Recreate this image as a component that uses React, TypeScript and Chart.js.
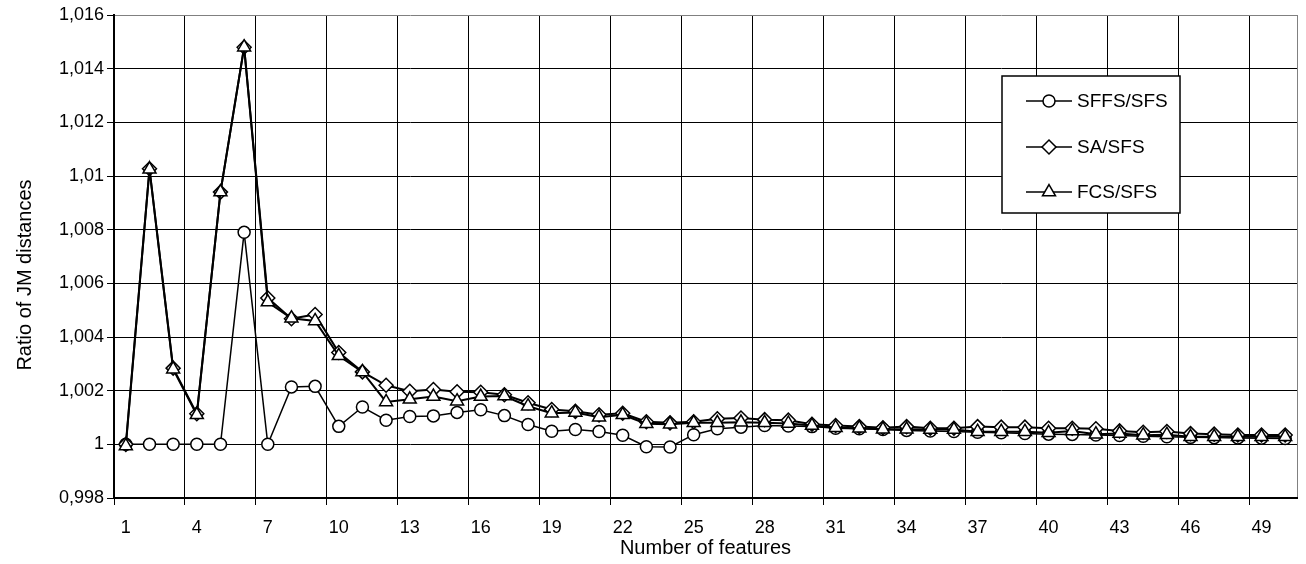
import React, { useEffect, useRef } from 'react';
import { Chart, registerables } from 'chart.js';
import { drawPoint } from 'chart.js/helpers';

Chart.register(...registerables);

const featureCounts = [
  '1', '2', '3', '4', '5', '6', '7', '8', '9', '10',
  '11', '12', '13', '14', '15', '16', '17', '18', '19', '20',
  '21', '22', '23', '24', '25', '26', '27', '28', '29', '30',
  '31', '32', '33', '34', '35', '36', '37', '38', '39', '40',
  '41', '42', '43', '44', '45', '46', '47', '48', '49', '50',
];

const sffsRatio = [
  1.0, 1.0, 1.0, 1.0, 1.0, 1.0079, 1.0, 1.00214, 1.00216, 1.00067,
  1.00139, 1.0009, 1.00104, 1.00106, 1.00119, 1.00129, 1.00107, 1.00074, 1.00049, 1.00055,
  1.00048, 1.00034, 0.99991, 0.9999, 1.00036, 1.00058, 1.00064, 1.0007, 1.00068, 1.00066,
  1.0006, 1.00058, 1.00055, 1.00052, 1.0005, 1.00048, 1.00045, 1.00043, 1.0004, 1.00038,
  1.00037, 1.00035, 1.00033, 1.0003, 1.00028, 1.00026, 1.00025, 1.00024, 1.00023, 1.00022,
];

const saRatio = [
  1.0, 1.01027, 1.00284, 1.00114, 1.0094, 1.0148, 1.00545, 1.00468, 1.00484, 1.00342,
  1.0027, 1.0022, 1.00198, 1.00204, 1.00196, 1.00194, 1.00185, 1.00155, 1.0013, 1.00123,
  1.0011, 1.00116, 1.00084, 1.0008, 1.00084, 1.00095, 1.00098, 1.00092, 1.0009, 1.00075,
  1.0007, 1.00066, 1.00062, 1.00066, 1.0006, 1.0006, 1.00066, 1.00064, 1.00064, 1.0006,
  1.0006, 1.00058, 1.0005, 1.00045, 1.00048, 1.0004, 1.00038, 1.00035, 1.00035, 1.00035,
];

const fcsRatio = [
  0.99994, 1.01025, 1.0028, 1.0011, 1.0094, 1.0148, 1.0053, 1.0047, 1.0046, 1.0033,
  1.0027, 1.00158, 1.00168, 1.00178, 1.00161, 1.00178, 1.0018, 1.00142, 1.00116, 1.00119,
  1.00101, 1.0011, 1.00077, 1.00075, 1.0008, 1.0008, 1.00082, 1.0008, 1.00078, 1.0007,
  1.00062, 1.0006, 1.00056, 1.00056, 1.00055, 1.00055, 1.00047, 1.00047, 1.00047, 1.00043,
  1.0005, 1.00038, 1.0004, 1.00034, 1.00036, 1.00028, 1.00028, 1.00028, 1.00028, 1.00028,
];

const seriesNames = ['SFFS/SFS', 'SA/SFS', 'FCS/SFS'];
const yMin = 0.998;
const yMax = 1.016;
const yStep = 0.002;
const xTitle = 'Number of features';
const yTitle = 'Ratio of JM distances';

const FONT = '"Liberation Sans", Arial, sans-serif';

const markerSpecs = [
  { pointStyle: 'circle', radius: 6, lineWidth: 1.5 },
  { pointStyle: 'rectRot', radius: 7, lineWidth: 2 },
  { pointStyle: 'triangle', radius: 7.5, lineWidth: 2 },
];

const boxLegendPlugin = {
  id: 'boxLegend',
  afterDraw(chart: any) {
    const ctx = chart.ctx;
    ctx.save();
    const bx = 1002, by = 76, bw = 178, bh = 137;
    ctx.fillStyle = '#ffffff';
    ctx.fillRect(bx, by, bw, bh);
    ctx.strokeStyle = '#000000';
    ctx.lineWidth = 1.5;
    ctx.strokeRect(bx, by, bw, bh);
    const rows = [101, 147, 192];
    seriesNames.forEach((name, i) => {
      const cy = rows[i];
      const spec = markerSpecs[i];
      ctx.strokeStyle = '#000000';
      ctx.lineWidth = 1.5;
      ctx.beginPath();
      ctx.moveTo(1026, cy);
      ctx.lineTo(1072, cy);
      ctx.stroke();
      ctx.fillStyle = '#ffffff';
      ctx.strokeStyle = '#000000';
      ctx.lineWidth = 1.5;
      drawPoint(ctx, { pointStyle: spec.pointStyle, radius: spec.radius, borderWidth: 1.5, rotation: 0 } as any, 1049, cy);
      ctx.fillStyle = '#000000';
      ctx.font = `19px ${FONT}`;
      ctx.textAlign = 'left';
      ctx.textBaseline = 'middle';
      ctx.fillText(name, 1077, cy + 1);
    });
    ctx.restore();
  },
};

const axisTitlePlugin = {
  id: 'axisTitles',
  afterDraw(chart: any) {
    const ctx = chart.ctx;
    const area = chart.chartArea;
    ctx.save();
    ctx.fillStyle = '#000000';
    ctx.font = `20px ${FONT}`;
    ctx.textAlign = 'center';
    ctx.textBaseline = 'middle';
    ctx.fillText(xTitle, (area.left + area.right) / 2, 548);
    ctx.translate(25, 275);
    ctx.rotate(-Math.PI / 2);
    ctx.fillText(yTitle, 0, 0);
    ctx.restore();
  },
};

export default function App() {
  const canvasRef = useRef<HTMLCanvasElement | null>(null);

  useEffect(() => {
    const canvas = canvasRef.current;
    if (!canvas) return;
    const seriesValues = [sffsRatio, saRatio, fcsRatio];
    const orders = [3, 2, 1];
    const chart = new Chart(canvas, {
      type: 'line',
      data: {
        labels: featureCounts,
        datasets: seriesNames.map((name, i) => ({
          label: name,
          data: seriesValues[i],
          borderColor: '#000000',
          borderWidth: markerSpecs[i].lineWidth,
          backgroundColor: '#ffffff',
          pointStyle: markerSpecs[i].pointStyle as any,
          pointRadius: markerSpecs[i].radius,
          pointBorderWidth: 1.5,
          pointBorderColor: '#000000',
          pointBackgroundColor: '#ffffff',
          tension: 0,
          fill: false,
          order: orders[i],
        })),
      },
      options: {
        responsive: false,
        maintainAspectRatio: false,
        animation: false,
        layout: { padding: { left: 0, right: 9, top: 15, bottom: 0 } },
        plugins: {
          legend: { display: false },
          tooltip: { enabled: false },
          title: { display: false },
        },
        scales: {
          x: {
            type: 'category',
            offset: true,
            afterFit(scale: any) {
              scale.height = 66;
            },
            grid: {
              offset: true,
              drawOnChartArea: true,
              drawTicks: true,
              tickLength: 7,
              lineWidth: 1,
              color: (c: any) => {
                if (c.index === undefined) return '#808080';
                return c.index % 3 === 0 ? '#000000' : 'rgba(0,0,0,0)';
              },
              tickColor: (c: any) => {
                if (c.index === undefined) return 'rgba(0,0,0,0)';
                return c.index % 3 === 0 ? '#000000' : 'rgba(0,0,0,0)';
              },
            },
            border: { display: true, color: '#000000', width: 2 },
            ticks: {
              autoSkip: false,
              maxRotation: 0,
              minRotation: 0,
              padding: 12,
              color: '#000000',
              font: { family: FONT, size: 18 },
              callback: (_v: any, index: number) => (index % 3 === 0 ? featureCounts[index] : ''),
            },
          },
          y: {
            type: 'linear',
            min: yMin,
            max: yMax,
            afterFit(scale: any) {
              scale.width = 114;
            },
            grid: {
              drawTicks: true,
              tickLength: 7,
              lineWidth: 1,
              color: (c: any) => (c.tick && c.tick.value > yMax - yStep / 10 ? '#808080' : '#000000'),
              tickColor: '#000000',
            },
            border: { display: true, color: '#000000', width: 2 },
            ticks: {
              stepSize: yStep,
              padding: 3,
              color: '#000000',
              font: { family: FONT, size: 18 },
              callback: (v: any) => String(Number(Number(v).toFixed(3))).replace('.', ','),
            },
          },
        },
      },
      plugins: [axisTitlePlugin, boxLegendPlugin],
    });
    return () => chart.destroy();
  }, []);

  return (
    <div style={{ position: 'absolute', left: 0, top: 0, width: 1306, height: 564, background: '#ffffff' }}>
      <canvas ref={canvasRef} width={1306} height={564} style={{ display: 'block', width: 1306, height: 564 }} />
    </div>
  );
}
